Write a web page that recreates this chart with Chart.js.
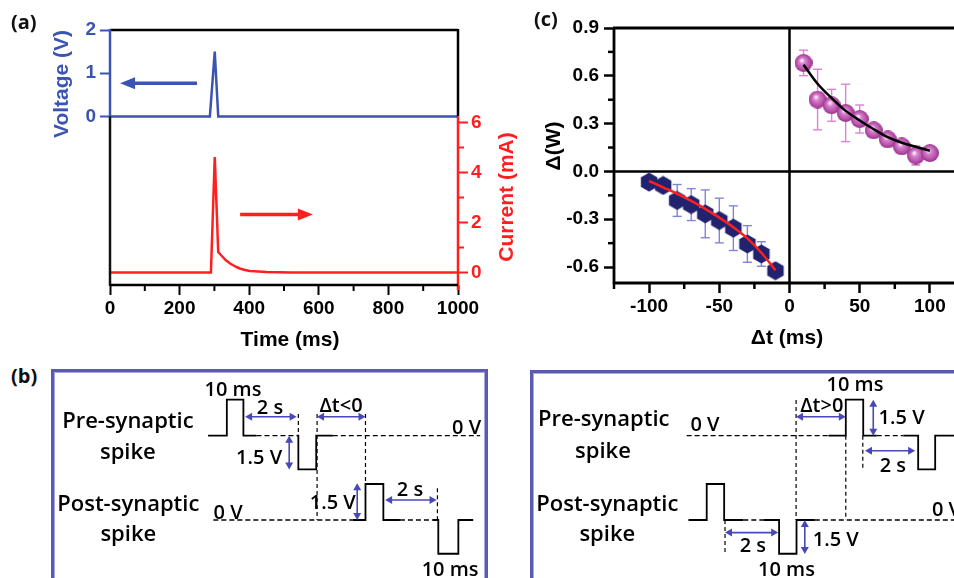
<!DOCTYPE html>
<html>
<head>
<meta charset="utf-8">
<script src="https://cdn.jsdelivr.net/npm/chart.js@4.4.1/dist/chart.umd.min.js"></script>
<style>
  html, body { margin: 0; padding: 0; background: #fff; }
  body { position: relative; width: 954px; height: 578px; overflow: hidden; }
  canvas { position: absolute; }
  .box { position: absolute; border: 3px solid #5a5ab2; box-shadow: inset 0 0 0 1px #a9a9dc; }
</style>
</head>
<body>
<div class="box" style="left:51px;top:369px;width:431px;height:240px"></div>
<div class="box" style="left:530px;top:370px;width:431px;height:240px"></div>
<canvas id="chartA" width="520" height="360" style="left:0;top:0"></canvas>
<canvas id="chartC" width="480" height="360" style="left:520px;top:0"></canvas>
<canvas id="chartNeg" width="436" height="211" style="left:52px;top:372px"></canvas>
<canvas id="chartPos" width="436" height="211" style="left:531px;top:372px"></canvas>
<script>
// ---- panel (a): voltage pulse and current response ----
const voltageT = [0, 287, 301, 311, 1000];
const voltageV = [0, 0, 1.5, 0, 0];
const currentT = [0, 290, 301, 311, 320, 333, 345, 354, 365, 373, 388, 402, 450, 520, 1000];
const currentI = [0, 0, 4.62, 0.82, 0.68, 0.49, 0.36, 0.29, 0.21, 0.16, 0.1, 0.06, 0.02, 0, 0];
const timeTicks = [0, 200, 400, 600, 800, 1000];
const timeMinor = [100, 300, 500, 700, 900];
const voltTicks = [0, 1, 2];
const currentTicks = [0, 2, 4, 6];
const currentMinor = [1, 3, 5];

// ---- panel (c): STDP weight change ----
const dtNeg = [-100, -90, -80, -70, -60, -50, -40, -30, -20, -10];
const dwNeg = [-0.067, -0.088, -0.182, -0.208, -0.266, -0.308, -0.356, -0.455, -0.518, -0.623];
const errNeg = [0.02, 0.02, 0.1, 0.1, 0.15, 0.14, 0.14, 0.115, 0.077, 0.02];
const fitNeg = [-0.06, -0.1, -0.14, -0.185, -0.235, -0.29, -0.35, -0.42, -0.51, -0.62];
const dtPos = [10, 20, 30, 40, 50, 60, 70, 80, 90, 100];
const dwPos = [0.681, 0.451, 0.415, 0.367, 0.329, 0.258, 0.201, 0.157, 0.10, 0.115];
const errPos = [0.08, 0.19, 0.1, 0.18, 0.088, 0.03, 0.03, 0.03, 0.06, 0.02];
const fitPos = [0.67, 0.55, 0.46, 0.38, 0.32, 0.265, 0.215, 0.18, 0.155, 0.13];
const dtTicks = [-100, -50, 0, 50, 100];
const dtMinor = [-125, -75, -25, 25, 75, 125];
const dwTicks = [-0.6, -0.3, 0, 0.3, 0.6, 0.9];
const dwMinor = [-0.45, -0.15, 0.15, 0.45, 0.75];

// ---- panel (b): spike schematics (time in arbitrary units, volts) ----
const spikeV = [0, 0, 1.6, 1.6, 0, 0, null, 0, 0, -1.5, -1.5, 0, 0];
const dashV = [0, 0, null, 0, 0];
const postOffset = -3.75;
// dt < 0
const preNegT = [35.8, 40.1, 40.1, 43.9, 43.9, 46.9, 51, 56.1, 56.5, 56.5, 60.6, 60.6, 64.4];
const preNegDashT = [46.9, 56.1, 60, 64.4, 98.2];
const postNegT = [69.0, 71.9, 71.9, 76.0, 76.0, 79.8, 83, 87.4, 88.6, 88.6, 93.2, 93.2, 96.6];
const postNegDashT = [37.0, 69.0, 75, 79.8, 87.4];
// dt > 0
const prePosT = [68.2, 72.2, 72.2, 76.2, 76.2, 79.3, 82, 85.4, 88.8, 88.8, 92.7, 92.7, 100];
const prePosDashT = [35.7, 68.2, 75, 79.3, 85.4];
const postPosT = [36.1, 40.3, 40.3, 44.3, 44.3, 48.7, 51, 53.3, 56.9, 56.9, 60.9, 60.9, 65.1];
const postPosDashT = [48.7, 53.3, 60, 65.1, 100];

const guidesNeg = [[56.5, 0.96, 0], [60.8, 0.96, -3.75], [71.9, 0.96, -2.12], [88.4, -2.34, -3.75]];
const arrowsNeg = [[44.3, 0.84, 56.1, 0.84], [60.8, 0.84, 71.9, 0.84], [54.4, 0, 54.4, -1.5],
                   [70.0, -3.75, 70.0, -2.12], [76.4, -2.86, 88.2, -2.86]];
const labelsNeg = [['10 ms', 41.5, 2.03], ['2 s', 50.0, 1.23], ['\u0394t<0', 66.3, 1.29], ['0 V', 95.1, 0.34],
                   ['1.5 V', 47.5, -0.99], ['1.5 V', 64.4, -3.0], ['2 s', 82.1, -2.41], ['0 V', 40.4, -3.44],
                   ['10 ms', 91.3, -5.97]];
const sideNeg = [['Pre-synaptic', 17.4, 0.62], ['spike', 17.4, -0.76], ['Post-synaptic', 17.5, -3.08], ['spike', 17.5, -4.41]];

const guidesPos = [[60.8, 1.59, -3.75], [72.2, 0, -3.75], [76.1, 0, -1.52], [44.5, -3.75, -5.26]];
const arrowsPos = [[60.8, 0.84, 72.2, 0.84], [78.5, 0, 78.5, 1.6], [76.6, -0.67, 88.1, -0.67],
                   [44.5, -4.31, 56.7, -4.31], [62.8, -3.75, 62.8, -5.26]];
const labelsPos = [['10 ms', 74.3, 2.25], ['\u0394t>0', 66.7, 1.29], ['1.5 V', 85.0, 0.79], ['0 V', 39.9, 0.48],
                   ['2 s', 83.0, -1.35], ['2 s', 50.9, -4.93], ['1.5 V', 69.9, -4.64], ['10 ms', 58.6, -5.97],
                   ['0 V', 95.3, -3.3]];
const sidePos = [['Pre-synaptic', 16.7, 0.70], ['spike', 16.5, -0.71], ['Post-synaptic', 17.5, -3.08], ['spike', 17.5, -4.41]];

const blue = '#3b54b3';
const red = '#ff1f1f';
const arial = 'Arial, "Liberation Sans", Helvetica, sans-serif';
const tickFont = { family: arial, size: 19, weight: 'bold' };
const schemFont = '"Open Sans", sans-serif';

function seg(ctx, x1, y1, x2, y2, color, width) {
    ctx.strokeStyle = color;
    ctx.lineWidth = width;
    ctx.beginPath();
    ctx.moveTo(x1, y1);
    ctx.lineTo(x2, y2);
    ctx.stroke();
}

function arrowHead(ctx, x1, y1, x2, y2, len, half, color) {
    const a = Math.atan2(y2 - y1, x2 - x1);
    ctx.fillStyle = color;
    ctx.beginPath();
    ctx.moveTo(x2, y2);
    ctx.lineTo(x2 - len * Math.cos(a) + half * Math.sin(a), y2 - len * Math.sin(a) - half * Math.cos(a));
    ctx.lineTo(x2 - len * Math.cos(a) - half * Math.sin(a), y2 - len * Math.sin(a) + half * Math.cos(a));
    ctx.closePath();
    ctx.fill();
}

function vText(ctx, text, x, y, font, color) {
    ctx.save();
    ctx.translate(x, y);
    ctx.rotate(-Math.PI / 2);
    ctx.font = font;
    ctx.fillStyle = color;
    ctx.textAlign = 'center';
    ctx.textBaseline = 'middle';
    ctx.fillText(text, 0, 0);
    ctx.restore();
}

function pts(xs, ys, off) {
    return xs.map((x, i) => ({ x: x, y: ys[i] === null ? null : ys[i] + (off || 0) }));
}

// frame, minor ticks, arrows and titles of panel (a)
const panelA = {
    id: 'panelA',
    afterDatasetsDraw(chart) {
        const { ctx, chartArea: ca, scales: { x, yV, yI } } = chart;
        const v0 = yV.getPixelForValue(0);
        ctx.save();
        seg(ctx, ca.left, ca.top, ca.right, ca.top, '#000', 2.5);
        seg(ctx, ca.right, ca.top - 1, ca.right, v0, '#000', 2.5);
        seg(ctx, ca.right, v0, ca.right, ca.bottom + 5, red, 2.5);
        seg(ctx, ca.left, ca.top - 1, ca.left, v0, blue, 2.5);
        seg(ctx, ca.left, v0, ca.left, ca.bottom + 1, '#111', 2.5);
        seg(ctx, ca.left, ca.bottom, ca.right, ca.bottom, '#000', 2.5);
        timeMinor.forEach(t => {
            const px = x.getPixelForValue(t);
            seg(ctx, px, ca.bottom, px, ca.bottom + 6, '#000', 2);
        });
        currentMinor.forEach(c => {
            const py = yI.getPixelForValue(c);
            seg(ctx, ca.right, py, ca.right + 6, py, red, 2);
        });

        // direction arrows
        const ay = yV.getPixelForValue(0.77);
        const bx1 = x.getPixelForValue(250), bx2 = x.getPixelForValue(29);
        seg(ctx, bx1, ay, bx2 + 10, ay, blue, 3.5);
        arrowHead(ctx, bx1, ay, bx2, ay, 15, 6, blue);
        const ry = yI.getPixelForValue(2.32);
        const rx1 = x.getPixelForValue(374), rx2 = x.getPixelForValue(583);
        seg(ctx, rx1, ry, rx2 - 10, ry, red, 3.5);
        arrowHead(ctx, rx1, ry, rx2, ry, 15, 6, red);

        ctx.fillStyle = '#111';
        ctx.font = 'bold 20px ' + schemFont;
        ctx.textAlign = 'left';
        ctx.textBaseline = 'middle';
        ctx.fillText('(a)', 11, 23);
        ctx.font = 'bold 21px ' + arial;
        ctx.fillStyle = '#000';
        ctx.textAlign = 'center';
        ctx.fillText('Time (ms)', 290, 340);
        vText(ctx, 'Voltage (V)', 62, 84, 'bold 21px ' + arial, blue);
        vText(ctx, 'Current (mA)', 507, 197, 'bold 21px ' + arial, red);
        ctx.restore();
    }
};

new Chart(document.getElementById('chartA'), {
    type: 'line',
    data: {
        datasets: [
            { data: pts(voltageT, voltageV), yAxisID: 'yV', borderColor: blue, borderWidth: 2.5,
              pointRadius: 0, tension: 0 },
            { data: pts(currentT, currentI), yAxisID: 'yI', borderColor: red, borderWidth: 2.5,
              pointRadius: 0, tension: 0 }
        ]
    },
    options: {
        responsive: false,
        animation: false,
        layout: { padding: { top: 30, left: 0, right: 0, bottom: 0 } },
        plugins: { legend: { display: false }, tooltip: { enabled: false } },
        scales: {
            x: {
                type: 'linear', min: 0, max: 1000,
                afterBuildTicks: s => { s.ticks = timeTicks.map(v => ({ value: v })); },
                afterFit: s => { s.height = 75; },
                grid: { drawOnChartArea: false, tickLength: 10, tickWidth: 2, tickColor: '#000' },
                border: { display: false },
                ticks: { font: tickFont, color: '#000', padding: 2, maxRotation: 0, callback: v => String(v) }
            },
            yV: {
                position: 'left', min: -3.9, max: 2,
                afterBuildTicks: s => { s.ticks = voltTicks.map(v => ({ value: v })); },
                afterFit: s => { s.width = 110; },
                grid: { drawOnChartArea: false, tickLength: 10, tickWidth: 2, tickColor: blue },
                border: { display: false },
                ticks: { font: tickFont, color: blue, padding: 4, callback: v => String(v) }
            },
            yI: {
                position: 'right', min: -0.5, max: 9.7,
                afterBuildTicks: s => { s.ticks = currentTicks.map(v => ({ value: v })); },
                afterFit: s => { s.width = 62; },
                grid: { drawOnChartArea: false, tickLength: 10, tickWidth: 2, tickColor: red },
                border: { display: false },
                ticks: { font: tickFont, color: red, padding: 3, callback: v => String(v) }
            }
        }
    },
    plugins: [panelA]
});

// marker images for panel (c)
function makeSphere(r) {
    const c = document.createElement('canvas');
    c.width = c.height = 2 * r;
    const g = c.getContext('2d');
    const grad = g.createRadialGradient(r * 0.8, r * 0.7, r * 0.05, r, r, r);
    grad.addColorStop(0, '#fff6fd');
    grad.addColorStop(0.3, '#d681cc');
    grad.addColorStop(0.75, '#b84fa9');
    grad.addColorStop(1, '#8e3386');
    g.fillStyle = grad;
    g.beginPath();
    g.arc(r, r, r, 0, Math.PI * 2);
    g.fill();
    return c;
}

function makeHex(r) {
    const c = document.createElement('canvas');
    c.width = c.height = 2 * r;
    const g = c.getContext('2d');
    g.fillStyle = '#22236f';
    g.beginPath();
    for (let k = 0; k < 6; k++) {
        const a = -Math.PI / 2 + k * Math.PI / 3;
        g.lineTo(r + (r - 0.5) * Math.cos(a), r + (r - 0.5) * Math.sin(a));
    }
    g.closePath();
    g.fill();
    return c;
}

function errBars(ctx, x, y, xs, ys, es, color) {
    xs.forEach((v, i) => {
        const px = x.getPixelForValue(v);
        const top = y.getPixelForValue(ys[i] + es[i]);
        const bot = y.getPixelForValue(ys[i] - es[i]);
        seg(ctx, px, top, px, bot, color, 1.4);
        seg(ctx, px - 4.5, top, px + 4.5, top, color, 1.4);
        seg(ctx, px - 4.5, bot, px + 4.5, bot, color, 1.4);
    });
}

const panelC = {
    id: 'panelC',
    beforeDatasetsDraw(chart) {
        const { ctx, chartArea: ca, scales: { x, y } } = chart;
        ctx.save();
        errBars(ctx, x, y, dtPos, dwPos, errPos, '#e27fd4');
        errBars(ctx, x, y, dtNeg, dwNeg, errNeg, '#8383dd');
        const x0 = x.getPixelForValue(0), y0 = y.getPixelForValue(0);
        seg(ctx, x0, ca.top, x0, ca.bottom, '#000', 2.5);
        seg(ctx, ca.left, y0, ca.right, y0, '#000', 2.5);
        seg(ctx, ca.left - 1, ca.top, ca.right, ca.top, '#000', 2.8);
        seg(ctx, ca.left, ca.top, ca.left, ca.bottom + 1, '#000', 2.8);
        seg(ctx, ca.left, ca.bottom, ca.right, ca.bottom, '#000', 2.8);
        seg(ctx, ca.right, ca.top, ca.right, ca.bottom, '#000', 2.8);
        dtMinor.forEach(t => {
            const px = x.getPixelForValue(t);
            seg(ctx, px, ca.bottom, px, ca.bottom + 6, '#000', 2.5);
        });
        dwMinor.forEach(w => {
            const py = y.getPixelForValue(w);
            seg(ctx, ca.left - 6, py, ca.left, py, '#000', 2.5);
        });
        ctx.restore();
    },
    afterDraw(chart) {
        const ctx = chart.ctx;
        ctx.save();
        ctx.fillStyle = '#111';
        ctx.font = 'bold 20px ' + schemFont;
        ctx.textAlign = 'left';
        ctx.textBaseline = 'middle';
        ctx.fillText('(c)', 14, 20);
        ctx.fillStyle = '#000';
        ctx.font = 'bold 21px ' + arial;
        ctx.textAlign = 'center';
        ctx.fillText('\u0394t (ms)', 267, 338);
        vText(ctx, '\u0394(W)', 34, 146, 'bold 21px ' + arial, '#000');
        ctx.restore();
    }
};

new Chart(document.getElementById('chartC'), {
    type: 'scatter',
    data: {
        datasets: [
            { data: pts(dtPos, fitPos), showLine: true, borderColor: '#000', borderWidth: 2.5,
              pointRadius: 0, cubicInterpolationMode: 'monotone', order: 0 },
            { data: pts(dtNeg, fitNeg), showLine: true, borderColor: red, borderWidth: 2.5,
              pointRadius: 0, cubicInterpolationMode: 'monotone', order: 1 },
            { data: pts(dtPos, dwPos), pointStyle: makeSphere(9), pointRadius: 9, order: 2 },
            { data: pts(dtNeg, dwNeg), pointStyle: makeHex(10), pointRadius: 10, order: 3 }
        ]
    },
    options: {
        responsive: false,
        animation: false,
        layout: { padding: { top: 28, right: 35, left: 0, bottom: 0 } },
        plugins: { legend: { display: false }, tooltip: { enabled: false } },
        scales: {
            x: {
                type: 'linear', min: -125, max: 125,
                afterBuildTicks: s => { s.ticks = dtTicks.map(v => ({ value: v })); },
                afterFit: s => { s.height = 77; },
                grid: { drawOnChartArea: false, tickLength: 10, tickWidth: 2.5, tickColor: '#000' },
                border: { display: false },
                ticks: { font: tickFont, color: '#000', padding: 2, maxRotation: 0, callback: v => String(v) }
            },
            y: {
                type: 'linear', min: -0.7, max: 0.9,
                afterBuildTicks: s => { s.ticks = dwTicks.map(v => ({ value: v })); },
                afterFit: s => { s.width = 94; },
                grid: { drawOnChartArea: false, tickLength: 10, tickWidth: 2.5, tickColor: '#000' },
                border: { display: false },
                ticks: { font: tickFont, color: '#000', padding: 5, callback: v => v.toFixed(1) }
            }
        }
    },
    plugins: [panelC]
});

// schematic panels (b)
function doubleArrow(ctx, x1, y1, x2, y2) {
    const c = '#4848b8';
    const a = Math.atan2(y2 - y1, x2 - x1);
    const d = 5;
    seg(ctx, x1 + d * Math.cos(a), y1 + d * Math.sin(a), x2 - d * Math.cos(a), y2 - d * Math.sin(a), c, 1.6);
    arrowHead(ctx, x2, y2, x1, y1, 7, 4, c);
    arrowHead(ctx, x1, y1, x2, y2, 7, 4, c);
}

function makeSchematic(guides, arrows, labels, side) {
    return {
        id: 'schematic',
        afterDatasetsDraw(chart) {
            const { ctx, scales: { x, y } } = chart;
            ctx.save();
            ctx.setLineDash([4, 3]);
            guides.forEach(g => {
                const px = x.getPixelForValue(g[0]);
                seg(ctx, px, y.getPixelForValue(g[1]), px, y.getPixelForValue(g[2]), '#000', 1.2);
            });
            ctx.setLineDash([]);
            arrows.forEach(a => doubleArrow(ctx, x.getPixelForValue(a[0]), y.getPixelForValue(a[1]),
                                                x.getPixelForValue(a[2]), y.getPixelForValue(a[3])));
            ctx.fillStyle = '#000';
            ctx.textAlign = 'center';
            ctx.textBaseline = 'middle';
            ctx.font = '600 20px ' + schemFont;
            labels.forEach(l => ctx.fillText(l[0], x.getPixelForValue(l[1]), y.getPixelForValue(l[2])));
            ctx.font = '600 22px ' + schemFont;
            side.forEach(l => ctx.fillText(l[0], x.getPixelForValue(l[1]), y.getPixelForValue(l[2])));
            ctx.restore();
        }
    };
}

function waveSet(t, v, off, dashed) {
    return {
        data: pts(t, v, off), borderColor: '#000', borderWidth: dashed ? 1.3 : 1.8,
        borderDash: dashed ? [5, 3] : [], pointRadius: 0, spanGaps: false, tension: 0
    };
}

function drawSchematic(id, preT, preDashT, postT, postDashT, guides, arrows, labels, side) {
    new Chart(document.getElementById(id), {
        type: 'line',
        data: {
            datasets: [
                waveSet(preT, spikeV, 0, false),
                waveSet(preDashT, dashV, 0, true),
                waveSet(postT, spikeV, postOffset, false),
                waveSet(postDashT, dashV, postOffset, true)
            ]
        },
        options: {
            responsive: false,
            animation: false,
            layout: { padding: 0 },
            plugins: { legend: { display: false }, tooltip: { enabled: false } },
            scales: {
                x: { type: 'linear', min: 0, max: 100, display: false },
                y: { min: -6.55, max: 2.83, display: false }
            }
        },
        plugins: [makeSchematic(guides, arrows, labels, side)]
    });
}

drawSchematic('chartNeg', preNegT, preNegDashT, postNegT, postNegDashT, guidesNeg, arrowsNeg, labelsNeg, sideNeg);
drawSchematic('chartPos', prePosT, prePosDashT, postPosT, postPosDashT, guidesPos, arrowsPos, labelsPos, sidePos);

// "(b)" tag sits outside both boxes
(function () {
    const tag = document.createElement('div');
    tag.textContent = '(b)';
    tag.style.cssText = 'position:absolute;left:11px;top:362px;font:bold 20px "Open Sans",sans-serif;color:#111';
    document.body.appendChild(tag);
})();
</script>
</body>
</html>
